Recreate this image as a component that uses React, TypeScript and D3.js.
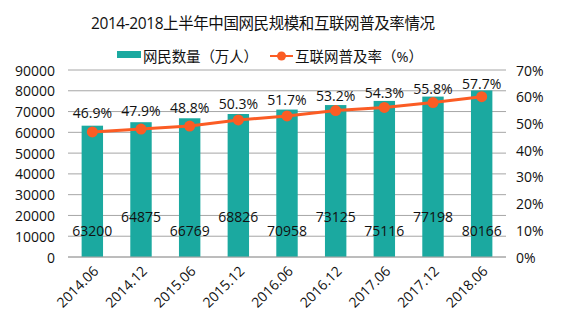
import React from "react";
import * as d3 from "d3";

const categories = ["2014.06", "2014.12", "2015.06", "2015.12", "2016.06", "2016.12", "2017.06", "2017.12", "2018.06"];
const users = [63200, 64875, 66769, 68826, 70958, 73125, 75116, 77198, 80166];
const rateLabels = [46.9, 47.9, 48.8, 50.3, 51.7, 53.2, 54.3, 55.8, 57.7];
// plotted positions of the rate markers
const ratePlotted = [46.8, 47.9, 49.0, 51.3, 52.8, 54.8, 56.0, 57.8, 60.0];
const leftTicks = [0, 10000, 20000, 30000, 40000, 50000, 60000, 70000, 80000, 90000];
const rightTicks = [0, 10, 20, 30, 40, 50, 60, 70];

const W = 578, H = 328;
const plotL = 68, plotR = 506, plotT = 70, plotB = 257;
const TEAL = "#1ba9a0";
const ORANGE = "#fb5c24";
const GRID = "#a6a6a6";
const FONT = "'Open Sans', 'Noto Sans CJK SC', sans-serif";

export default function App() {
  const x = d3.scaleBand<string>().domain(categories).range([plotL, plotR]).paddingInner(0.56).paddingOuter(0.28);
  const yL = d3.scaleLinear().domain([0, 90000]).range([plotB, plotT]);
  const yR = d3.scaleLinear().domain([0, 70]).range([plotB, plotT]);
  const cx = (c: string) => (x(c) as number) + x.bandwidth() / 2;
  const line = d3.line<number>().x((_, i) => cx(categories[i])).y((d) => yR(d));

  return (
    <svg width={W} height={H} style={{ position: "absolute", left: 0, top: 0, background: "#fff" }} fontFamily={FONT}>
      <text x={263} y={23} textAnchor="middle" dominantBaseline="central" fontSize={15.5} fill="#111" textLength={344} lengthAdjust="spacing">
        2014-2018上半年中国网民规模和互联网普及率情况
      </text>
      {/* legend */}
      <rect x={117} y={51} width={24} height={7} fill={TEAL} />
      <text x={143} y={56} dominantBaseline="central" fontSize={14.5} fill="#111" textLength={115} lengthAdjust="spacing">网民数量（万人）</text>
      <line x1={270} x2={293} y1={56} y2={56} stroke={ORANGE} strokeWidth={2} />
      <circle cx={281.5} cy={56} r={4.5} fill={ORANGE} />
      <text x={295} y={56} dominantBaseline="central" fontSize={14.5} fill="#111" textLength={128} lengthAdjust="spacing">互联网普及率（%）</text>

      {/* grid */}
      {leftTicks.map((t) => (
        <line key={t} x1={plotL} x2={plotR} y1={yL(t)} y2={yL(t)} stroke={GRID} strokeWidth={1} />
      ))}
      {leftTicks.map((t) => (
        <text key={"l" + t} x={55} y={yL(t)} textAnchor="end" dominantBaseline="central" fontSize={14} fill="#111">{t}</text>
      ))}
      {rightTicks.map((t) => (
        <text key={"r" + t} x={516} y={yR(t)} textAnchor="start" dominantBaseline="central" fontSize={14} fill="#111">{t}%</text>
      ))}

      {/* bars */}
      {users.map((v, i) => (
        <rect key={i} x={x(categories[i])} y={yL(v)} width={x.bandwidth()} height={plotB - yL(v)} fill={TEAL} />
      ))}
      <line x1={plotL} x2={plotR} y1={plotB} y2={plotB} stroke={GRID} strokeWidth={1} />

      {/* bar value labels */}
      {users.map((v, i) => (
        <text key={"v" + i} x={cx(categories[i])} y={i % 2 === 0 ? 230.5 : 216} textAnchor="middle" dominantBaseline="central" fontSize={14} fill="#111">{v}</text>
      ))}

      {/* line */}
      <path d={line(ratePlotted) || ""} fill="none" stroke={ORANGE} strokeWidth={3} />
      {ratePlotted.map((v, i) => (
        <circle key={"c" + i} cx={cx(categories[i])} cy={yR(v)} r={5.5} fill={ORANGE} />
      ))}
      {rateLabels.map((v, i) => (
        <text key={"p" + i} x={cx(categories[i])} y={yR(v) - 19} textAnchor="middle" dominantBaseline="central" fontSize={14} fill="#111">{v.toFixed(1)}%</text>
      ))}

      {/* x labels */}
      {categories.map((c) => (
        <text key={"x" + c} transform={`translate(${cx(c) + 7},${plotB + 15}) rotate(-45)`} textAnchor="end" fontSize={14} fill="#111">{c}</text>
      ))}
    </svg>
  );
}
